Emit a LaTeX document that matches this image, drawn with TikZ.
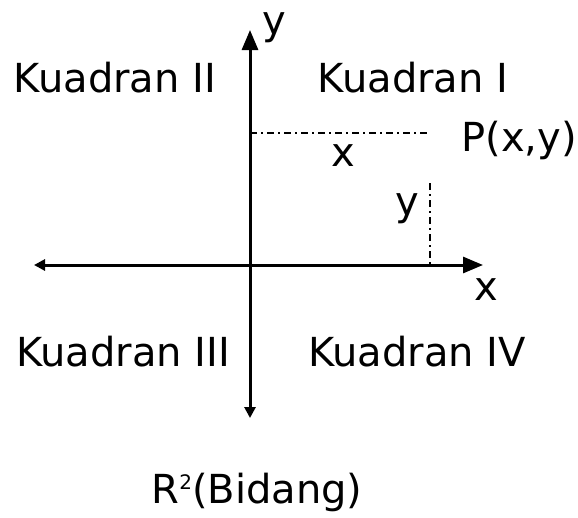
\documentclass[tikz,border=0pt]{standalone}
\usepackage{fontspec}
\setmainfont{DejaVu Sans}
\usetikzlibrary{arrows.meta}
\begin{document}
\begin{tikzpicture}[x={(1pt,0)},y={(0,-1pt)},
  axis/.style={line width=3pt},
  bigtip/.style={-{Triangle[length=20pt,width=16pt]}},
  smalltip/.style={-{Triangle[length=11pt,width=11pt]}},
  guide/.style={line width=1.5pt,dash pattern=on 7pt off 4pt on 2pt off 4pt},
  lbl/.style={inner sep=0pt,font=\fontsize{40}{46}\selectfont}]
\useasboundingbox (0,0) rectangle (578,517);
\coordinate (O) at (250,265);
\coordinate (T) at (250,30);
\coordinate (B) at (250,418);
\coordinate (L) at (34,265);
\coordinate (R) at (483,265);
\coordinate (PX) at (428,133);
\coordinate (YA) at (250,133);
\coordinate (PV) at (430,183);
\coordinate (XA) at (430,265);
\draw[axis,bigtip] (O) -- (T);
\draw[axis,smalltip] (O) -- (B);
\draw[axis,smalltip] (O) -- (L);
\draw[axis,bigtip] (O) -- (R);
\draw[guide] (YA) -- (PX);
\draw[guide] (PV) -- (XA);
\node[lbl] (ly) at (274,28) {y};
\node[lbl] (k2) at (115,78) {Kuadran II};
\node[lbl] (k1) at (413,78) {Kuadran I};
\node[lbl] (p) at (519,140) {P(x,y)};
\node[lbl] (gx) at (343,156) {x};
\node[lbl] (gy) at (407,209) {y};
\node[lbl] (lx) at (486,290) {x};
\node[lbl] (k3) at (123,352) {Kuadran III};
\node[lbl] (k4) at (417,352) {Kuadran IV};
\node[lbl] (r2) at (257,492) {R\raisebox{0.35em}{\fontsize{20}{22}\selectfont 2}(Bidang)};
\end{tikzpicture}
\end{document}
